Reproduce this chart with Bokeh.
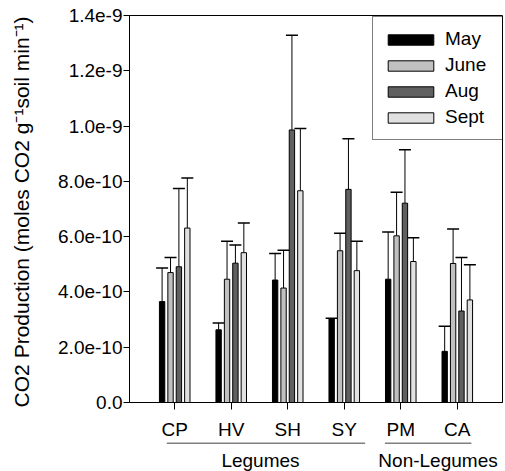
from bokeh.plotting import figure
from bokeh.layouts import column
from bokeh.models import (Range1d, FactorRange, FixedTicker, Whisker, TeeHead,
                          ColumnDataSource)
from bokeh.core.properties import value
from bokeh.transform import dodge
from bokeh.embed import file_html
from bokeh.resources import INLINE

# ---------------- data ----------------
crops = ["CP", "HV", "SH", "SY", "PM", "CA"]
groups = ["Legumes", "Legumes", "Legumes", "Legumes", "Non-Legumes", "Non-Legumes"]
months = ["May", "June", "Aug", "Sept"]

may = [3.65e-10, 2.63e-10, 4.43e-10, 3.02e-10, 4.46e-10, 1.85e-10]
may_upper = [4.87e-10, 2.88e-10, 5.39e-10, 3.05e-10, 6.17e-10, 2.76e-10]
june = [4.70e-10, 4.46e-10, 4.14e-10, 5.49e-10, 6.03e-10, 5.03e-10]
june_upper = [5.25e-10, 5.83e-10, 5.51e-10, 6.12e-10, 7.61e-10, 6.28e-10]
aug = [4.91e-10, 5.04e-10, 9.86e-10, 7.71e-10, 7.21e-10, 3.31e-10]
aug_upper = [7.74e-10, 5.70e-10, 13.29e-10, 9.54e-10, 9.14e-10, 5.25e-10]
sept = [6.31e-10, 5.42e-10, 7.66e-10, 4.77e-10, 5.10e-10, 3.71e-10]
sept_upper = [8.12e-10, 6.49e-10, 9.91e-10, 5.83e-10, 5.96e-10, 4.98e-10]

yticks = [0.0, 2e-10, 4e-10, 6e-10, 8e-10, 1.0e-9, 1.2e-9, 1.4e-9]
ytick_labels = ["0.0", "2.0e-10", "4.0e-10", "6.0e-10", "8.0e-10",
                "1.0e-9", "1.2e-9", "1.4e-9"]
y_max = 1.4e-9

# ---------------- styling ----------------
FONT = "Liberation Sans"
colors = ["#000000", "#c0c0c0", "#606060", "#e0e0e0"]
offsets = [-0.223, -0.074, 0.074, 0.223]
bar_w = 0.095

series = [(may, may_upper), (june, june_upper), (aug, aug_upper), (sept, sept_upper)]

p = figure(width=505, height=442,
           x_range=FactorRange(*crops, range_padding=0.3, range_padding_units="absolute"),
           y_range=Range1d(0, y_max),
           output_backend="svg", toolbar_location=None,
           min_border_left=129, min_border_right=3, min_border_top=15, min_border_bottom=38)

p.xgrid.visible = False
p.ygrid.visible = False
p.outline_line_color = "black"
p.outline_line_width = 1
p.background_fill_color = "white"
p.border_fill_color = "white"

for m, (vals, upper), col, off in zip(months, series, colors, offsets):
    src = ColumnDataSource(dict(crop=crops, val=vals, upper=upper))
    p.vbar(x=dodge("crop", off, range=p.x_range), top="val", width=bar_w, source=src,
           fill_color=col, line_color="black", line_width=1, legend_label=m)
    w = Whisker(source=src, base=dodge("crop", off, range=p.x_range),
                lower="val", upper="upper",
                upper_head=TeeHead(size=12, line_width=1.5, line_color="black"),
                lower_head=None, line_color="black", line_width=1)
    p.add_layout(w)

# y axis
ya = p.yaxis[0]
ya.ticker = FixedTicker(ticks=yticks)
ya.major_label_overrides = {t: l for t, l in zip(yticks, ytick_labels)}
ya.minor_tick_line_color = None
ya.major_tick_in = 0
ya.major_tick_out = 6
ya.major_label_text_font = FONT
ya.major_label_text_font_size = "19px"
ya.major_label_text_color = "black"
ya.major_label_standoff = 1
ya.axis_label = "CO2 Production (moles CO2  g\u207b\u00b9soil min\u207b\u00b9)"
ya.axis_label_text_font = FONT
ya.axis_label_text_font_size = "21px"
ya.axis_label_text_font_style = "normal"
ya.axis_label_text_color = "black"
ya.axis_label_standoff = 22
ya.axis_line_color = "black"

# x axis
xa = p.xaxis[0]
xa.major_tick_in = 0
xa.major_tick_out = 7
xa.minor_tick_line_color = None
xa.major_label_text_font = FONT
xa.major_label_text_font_size = "19px"
xa.major_label_text_color = "black"
xa.major_label_standoff = 9
xa.axis_line_color = "black"

# legend
lg = p.legend[0]
lg.location = (243, 262)
lg.border_line_color = "black"
lg.border_line_width = 1
lg.background_fill_color = "white"
lg.background_fill_alpha = 1
lg.padding = 9
lg.spacing = 0
lg.margin = 0
lg.glyph_width = 57
lg.glyph_height = 13
lg.label_height = 26
lg.label_width = 48
lg.label_standoff = 6
lg.label_text_font = FONT
lg.label_text_font_size = "19px"
lg.label_text_color = "black"

# ---------------- group brackets & names (strip below the x axis) ----------------
q = figure(width=505, height=29, x_range=p.x_range, y_range=Range1d(29, 0),
           output_backend="svg", toolbar_location=None,
           x_axis_location=None, y_axis_location=None,
           min_border_left=129, min_border_right=3, min_border_top=0, min_border_bottom=0)
q.xgrid.visible = False
q.ygrid.visible = False
q.outline_line_color = None
q.background_fill_color = "white"
q.border_fill_color = "white"

group_names = list(dict.fromkeys(groups))
bracket_pads = {"Legumes": (0.14, 0.37), "Non-Legumes": (0.28, 0.25)}
name_offsets = {"Legumes": 1, "Non-Legumes": 9}
for g in group_names:
    members = [c for c, gg in zip(crops, groups) if gg == g]
    n = len(members)
    lp, rp = bracket_pads[g]
    gsrc = ColumnDataSource(dict(first=[members[0]], name=[g]))
    q.segment(x0=dodge("first", -lp, range=q.x_range), x1=dodge("first", (n - 1) + rp, range=q.x_range),
              y0=0.5, y1=0.5, source=gsrc, line_color="black", line_width=1)
    q.text(x=dodge("first", (n - 1) / 2, range=q.x_range), y=18, text="name", source=gsrc,
           x_offset=name_offsets[g], text_align="center", text_baseline="middle",
           text_font=value(FONT), text_font_size="19px", text_color="black")

layout = column(p, q, spacing=0)
open("out.html", "w").write(file_html(layout, INLINE))
